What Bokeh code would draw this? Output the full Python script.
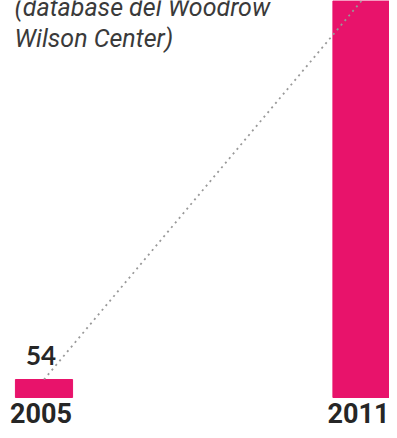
from bokeh.plotting import figure
from bokeh.models import ColumnDataSource, Label, CDSView, BooleanFilter
from bokeh.core.properties import value
from bokeh.embed import file_html
from bokeh.resources import INLINE

years = ["2005", "2011"]
counts = [54, 1190]
note_lines = ["(database del Woodrow", "Wilson Center)"]

Y_START, Y_END = -99, 1191

pos = list(range(len(years)))
src = ColumnDataSource(dict(x=pos, top=counts, year=years, lab=[str(c) for c in counts]))
# value labels that would sit above the visible frame are cropped away in the reference
lab_view = CDSView(filter=BooleanFilter([c + 150 < Y_END for c in counts]))

p = figure(width=389, height=430, output_backend="svg", toolbar_location=None,
           x_range=(-0.137, 1.0882), y_range=(Y_START, Y_END), min_border=0)
p.axis.visible = False
p.grid.visible = False
p.outline_line_color = None
p.background_fill_color = "white"
p.border_fill_color = "white"

BAR = "#e8136b"
p.vbar(x="x", top="top", bottom=0, width=0.18, source=src, color=BAR)
p.line(x="x", y="top", source=src, line_color="#999999", line_width=1.8, line_dash="2 4")

p.text(x="x", y=0, text="year", source=src, text_font=value("Roboto"), text_font_style="bold",
       text_font_size="27px", text_color="#262626", text_align="center",
       text_baseline="top", x_offset=-3, y_offset=5)
p.text(x="x", y="top", text="lab", source=src, view=lab_view, text_font=value("Lato"),
       text_font_style="bold", text_font_size="26px", text_color="#262626",
       text_align="center", text_baseline="bottom", x_offset=-3, y_offset=-15)

for i, line in enumerate(note_lines):
    p.add_layout(Label(x=14, y=423 - 31 * i, x_units="screen", y_units="screen", text=line,
                       text_font="Roboto", text_font_style="italic",
                       text_font_size="25px", text_color="#3a3a3a", text_baseline="alphabetic"))

open("out.html", "w").write(file_html(p, INLINE))
